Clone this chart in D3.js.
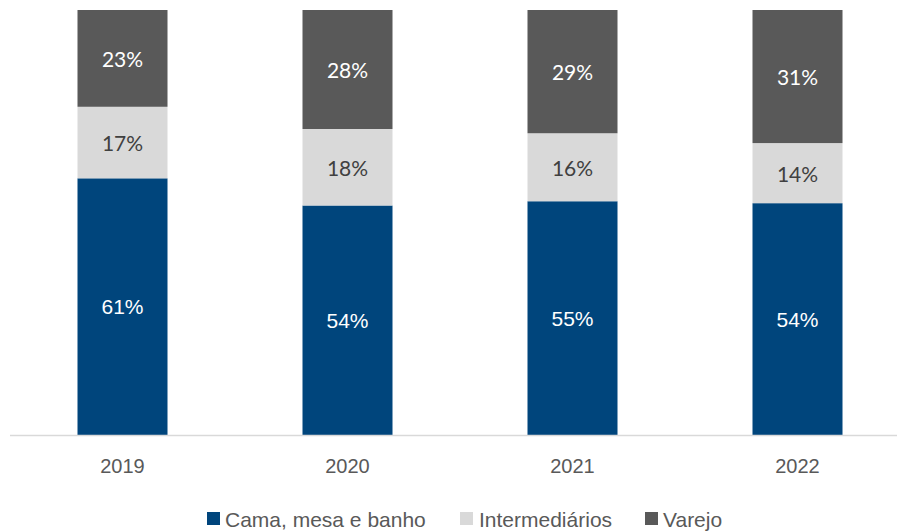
<!DOCTYPE html>
<html>
<head>
<meta charset="utf-8">
<script src="https://cdn.jsdelivr.net/npm/d3@7"></script>
<style>
  html, body { margin: 0; padding: 0; background: #fff; }
  svg { display: block; }
</style>
</head>
<body>
<svg id="chart" width="897" height="531"></svg>
<script>
const years = ["2019", "2020", "2021", "2022"];
const seriesNames = ["Cama, mesa e banho", "Intermediários", "Varejo"];
const camaMesaBanho = [61, 54, 55, 54];
const intermediarios = [17, 18, 16, 14];
const varejo = [23, 28, 29, 31];

const colors = ["#00457C", "#D9D9D9", "#595959"];
const labelColors = ["#FFFFFF", "#404040", "#FFFFFF"];
const labelFonts = ["'Liberation Sans', Arial, sans-serif", "Lato, 'Open Sans', sans-serif", "Lato, 'Open Sans', sans-serif"];

const keys = ["cama", "inter", "varejo"];
const rows = years.map((yr, i) => ({
  year: yr, cama: camaMesaBanho[i], inter: intermediarios[i], varejo: varejo[i]
}));

const svg = d3.select("#chart");
const baselineY = 435, topY = 10;

const x = d3.scaleBand().domain(years).range([10, 910]).paddingInner(0.6).paddingOuter(0.3);
const y = d3.scaleLinear().domain([0, 1]).range([baselineY, topY]);

const stacked = d3.stack().keys(keys).offset(d3.stackOffsetExpand)(rows);

const layers = svg.selectAll("g.layer").data(stacked).join("g").attr("class", "layer")
  .attr("fill", (d, i) => colors[i]);

layers.selectAll("rect").data(d => d).join("rect")
  .attr("x", d => x(d.data.year))
  .attr("width", x.bandwidth())
  .attr("y", d => y(d[1]))
  .attr("height", d => y(d[0]) - y(d[1]));

stacked.forEach((layer, li) => {
  svg.append("g").selectAll("text").data(layer).join("text")
    .attr("x", d => x(d.data.year) + x.bandwidth() / 2)
    .attr("y", d => (y(d[0]) + y(d[1])) / 2)
    .attr("text-anchor", "middle")
    .attr("dominant-baseline", "central")
    .attr("font-family", labelFonts[li])
    .attr("font-size", "21px")
    .attr("fill", labelColors[li])
    .text(d => d.data[keys[li]] + "%");
});

// axis
const axis = svg.append("g").attr("transform", `translate(0,${baselineY})`)
  .call(d3.axisBottom(x).tickSize(0).tickPadding(24));
axis.select(".domain").attr("d", "M10,0.5H897").attr("stroke", "#D9D9D9").attr("stroke-width", 1.5);
axis.selectAll("text")
  .attr("font-family", "'Liberation Sans', Arial, sans-serif")
  .attr("font-size", "20px")
  .attr("fill", "#595959");

// legend
const legendItems = [
  { sx: 207, tx: 225 },
  { sx: 460, tx: 479 },
  { sx: 645, tx: 663 }
];
const legend = svg.append("g");
seriesNames.forEach((name, i) => {
  legend.append("rect")
    .attr("x", legendItems[i].sx).attr("y", 512)
    .attr("width", 13).attr("height", 13)
    .attr("fill", colors[i]);
  legend.append("text")
    .attr("x", legendItems[i].tx).attr("y", 519)
    .attr("dominant-baseline", "central")
    .attr("font-family", "'Liberation Sans', Arial, sans-serif")
    .attr("font-size", "21px")
    .attr("fill", "#595959")
    .text(name);
});
</script>
</body>
</html>
